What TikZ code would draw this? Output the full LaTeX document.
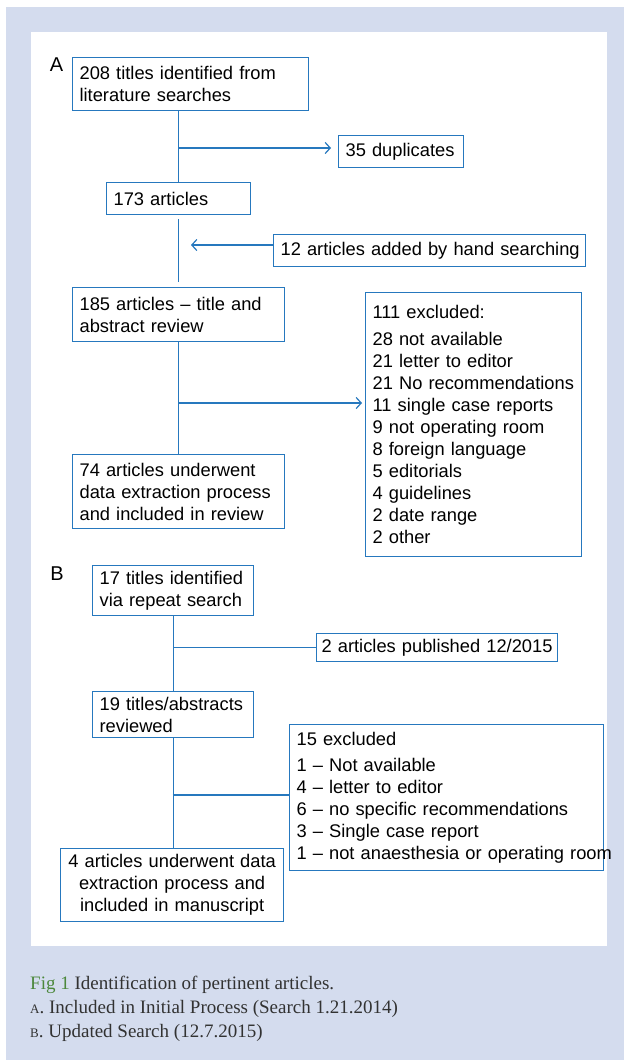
\documentclass[tikz,border=0pt]{standalone}
\usepackage{fontspec}
\setmainfont{Liberation Sans}
\newfontfamily\captionserif{Liberation Serif}
\usetikzlibrary{arrows.meta}
\definecolor{panelblue}{RGB}{212,220,238}
\definecolor{boxblue}{RGB}{38,120,190}
\definecolor{figgreen}{RGB}{76,136,60}
\definecolor{captext}{RGB}{50,50,50}
\tikzset{
  flowbox/.style={draw=boxblue, line width=1.2pt, anchor=north west, inner xsep=7pt,
    inner ysep=0pt, align=left, font=\fontsize{18.3}{22}\selectfont},
  flowline/.style={draw=boxblue, line width=1.2pt},
  flowarrow/.style={flowline, -{Straight Barb[length=5pt,width=11pt]}},
  panellabel/.style={anchor=base, inner sep=0pt, font=\fontsize{20}{20}\selectfont},
  caption/.style={anchor=base west, inner sep=0pt, text=captext,
    font=\captionserif\fontsize{19}{24}\selectfont},
}
\begin{document}
\begin{tikzpicture}[x=1pt, y=-1pt]
  \useasboundingbox (0,0) rectangle (624,1060);
  \fill[panelblue] (6,7) rectangle (624,1060);
  \fill[white] (31,32) rectangle (607,946);

  % A: initial process
  \node[panellabel] (labA) at (56.5,71) {A};
  \node[flowbox, text width=222pt, minimum height=53pt] (b208) at (72,57)
    {208 titles identified from\\literature searches};
  \node[flowbox, text width=111pt, minimum height=32pt] (dup) at (338,135) {35 duplicates};
  \node[flowbox, text width=130pt, minimum height=32pt] (a173) at (106,182) {173 articles};
  \node[flowbox, text width=298pt, minimum height=32pt] (hand) at (273,234)
    {\mbox{12 articles added by hand searching}};
  \node[flowbox, text width=198pt, minimum height=54pt] (a185) at (72,287)
    {185 articles – title and\\abstract review};
  \node[flowbox, text width=202pt, minimum height=264pt] (excl) at (365,292)
    {111 excluded:\\[5pt]28 not available\\21 letter to editor\\\mbox{21 No recommendations}\\
     11 single case reports\\9 not operating room\\8 foreign language\\5 editorials\\
     4 guidelines\\2 date range\\2 other};
  \node[flowbox, text width=198pt, minimum height=74pt] (a74) at (72,454)
    {74 articles underwent\\data extraction process\\and included in review};

  \draw[flowline] (b208.south -| a173.north) -- (a173.north);
  \coordinate (j1) at (179,148);
  \draw[flowarrow, shorten >=7pt] (j1) -- (j1 -| dup.west);
  \draw[flowline, shorten <=4pt, shorten >=5pt] (a173.south) -- (a173.south |- a185.north);
  \coordinate (j2) at (191,245);
  \draw[flowarrow] (j2 -| hand.west) -- (j2);
  \draw[flowline] (a185.south) -- (a74.north);
  \coordinate (j3) at (178,403);
  \draw[flowarrow, shorten >=3pt] (j3) -- (j3 -| excl.west);

  % B: updated search
  \node[panellabel] (labB) at (57,580) {B};
  \node[flowbox, text width=147pt, minimum height=50pt] (b17) at (92,565)
    {17 titles identified\\via repeat search};
  \node[flowbox, inner xsep=5pt, text width=231pt, minimum height=28pt] (pub) at (316,633)
    {\mbox{2 articles published 12/2015}};
  \node[flowbox, text width=147pt, minimum height=46pt] (b19) at (92,691)
    {19 titles/abstracts\\reviewed};
  \node[flowbox, text width=300pt, minimum height=146pt] (excl15) at (289,724)
    {15 excluded\\[4.5pt]1 – Not available\\4 – letter to editor\\6 – no specific recommendations\\
     3 – Single case report\\\mbox{1 – not anaesthesia or operating room}};
  \node[flowbox, align=center, text width=209pt, minimum height=73pt] (a4) at (60,848)
    {4 articles underwent data\\extraction process and\\included in manuscript};

  \draw[flowline] (b17.south) -- (b19.north);
  \coordinate (j4) at (b17.south |- pub.west);
  \draw[flowline] (j4) -- (pub.west);
  \draw[flowline] (b19.south) -- (b19.south |- a4.north);
  \coordinate (j5) at (172.5,795);
  \draw[flowline] (j5) -- (j5 -| excl15.west);

  % caption
  \node[caption] (cap1) at (30,989) {\textcolor{figgreen}{Fig 1} Identification of pertinent articles.};
  \node[caption] (cap2) at (30,1013) {{\fontsize{13}{13}\selectfont A}. Included in Initial Process (Search 1.21.2014)};
  \node[caption] (cap3) at (30,1037) {{\fontsize{13}{13}\selectfont B}. Updated Search (12.7.2015)};
\end{tikzpicture}
\end{document}
